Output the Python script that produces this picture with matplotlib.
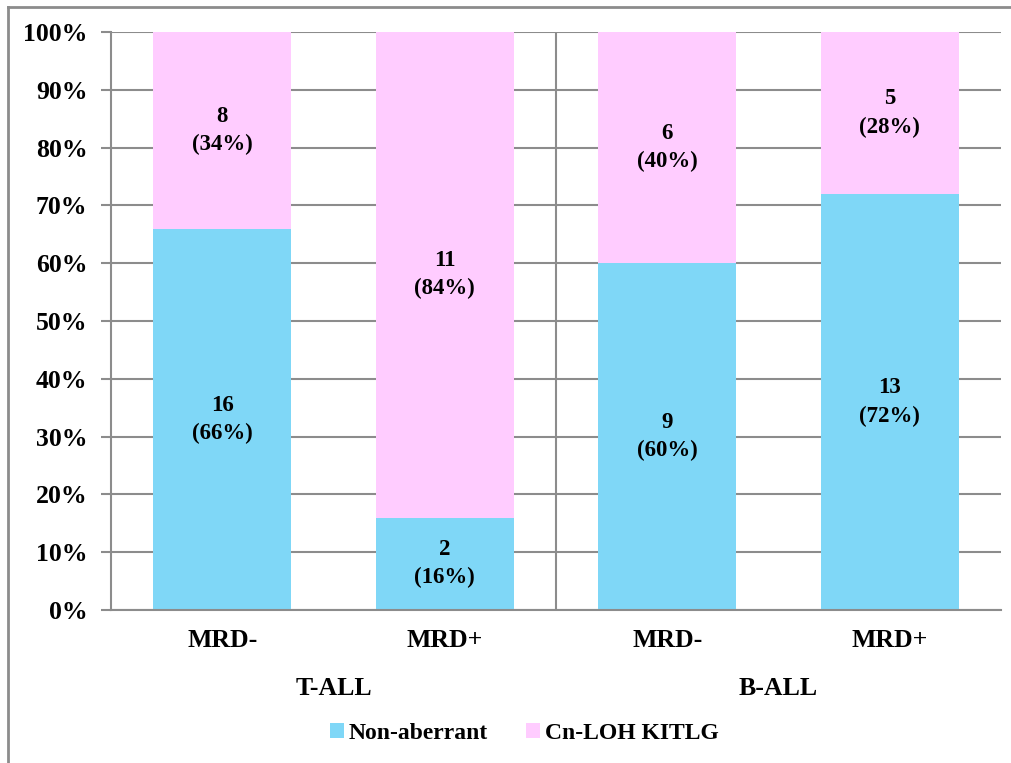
import numpy as np
import matplotlib
matplotlib.use("Agg")
import matplotlib.pyplot as plt
from matplotlib.patches import Patch
from matplotlib.lines import Line2D
import matplotlib.transforms as mtransforms

# cohort data
groups = ["T-ALL", "B-ALL"]
categories = ["MRD-", "MRD+", "MRD-", "MRD+"]
non_aberrant_n = [16, 2, 9, 13]
cnloh_n = [8, 11, 6, 5]
non_aberrant_pct = [66, 16, 60, 72]
cnloh_pct = [34, 84, 40, 28]

blue = "#7fd7f7"
pink = "#ffccff"
grid_col = "#8c8c8c"

plt.rcParams["font.family"] = ["Liberation Serif", "DejaVu Serif"]
plt.rcParams["font.weight"] = "bold"

fig = plt.figure(figsize=(10.12, 7.63), dpi=100)
ax = fig.add_axes([111 / 1012, 153 / 763, 890 / 1012, 578 / 763])

x = np.arange(len(categories))
ax.bar(x, non_aberrant_pct, width=0.62, color=blue, zorder=2)
ax.bar(x, cnloh_pct, width=0.62, bottom=non_aberrant_pct, color=pink, zorder=2)

# two-line value labels in the middle of each segment
for i in range(len(x)):
    ax.text(x[i], non_aberrant_pct[i] / 2, "%d\n(%d%%)" % (non_aberrant_n[i], non_aberrant_pct[i]),
            ha="center", va="center", fontsize=16.5, fontweight="bold", linespacing=1.45, zorder=3)
    ax.text(x[i], non_aberrant_pct[i] + cnloh_pct[i] / 2, "%d\n(%d%%)" % (cnloh_n[i], cnloh_pct[i]),
            ha="center", va="center", fontsize=16.5, fontweight="bold", linespacing=1.45, zorder=3)

ax.set_xlim(-0.5, len(x) - 0.5)
ax.set_ylim(0, 100)
ax.set_yticks(np.arange(0, 101, 10))
ax.set_yticklabels(["%d%%" % v for v in range(0, 101, 10)], fontsize=18.5, fontweight="bold")
ax.yaxis.grid(True, color=grid_col, linewidth=1.5, zorder=0)
ax.set_axisbelow(True)
ax.tick_params(axis="y", length=7, width=1.5, color=grid_col, pad=10)
ax.set_xticks([])

for side in ["top", "right"]:
    ax.spines[side].set_visible(False)
for side in ["left", "bottom"]:
    ax.spines[side].set_color(grid_col)
    ax.spines[side].set_linewidth(1.5)

# separator between the two groups
ax.axvline(1.5, color=grid_col, linewidth=1.5, zorder=1)

trans = mtransforms.blended_transform_factory(ax.transData, ax.transAxes)
for i, c in enumerate(categories):
    ax.text(x[i], -0.052, c, transform=trans, ha="center", va="center",
            fontsize=18.5, fontweight="bold")
for g, name in enumerate(groups):
    ax.text(2 * g + 0.5, -0.135, name, transform=trans, ha="center", va="center",
            fontsize=18.5, fontweight="bold")

handles = [Patch(facecolor=blue, edgecolor="none", label="Non-aberrant"),
           Patch(facecolor=pink, edgecolor="none", label="Cn-LOH KITLG")]
fig.legend(handles=handles, loc="center", bbox_to_anchor=(0.518, 0.039), ncol=2,
           frameon=False, prop={"size": 17, "weight": "bold"},
           handlelength=0.6, handleheight=0.6, handletextpad=0.2, columnspacing=1.6)

# chart area border (top and left edges)
fig.add_artist(Line2D([8 / 1012, 8 / 1012], [0, 756 / 763], color=grid_col, linewidth=2,
                      transform=fig.transFigure))
fig.add_artist(Line2D([8 / 1012, 1], [756 / 763, 756 / 763], color=grid_col, linewidth=2,
                      transform=fig.transFigure))

fig.savefig("out.png", dpi=100)
plt.close(fig)
